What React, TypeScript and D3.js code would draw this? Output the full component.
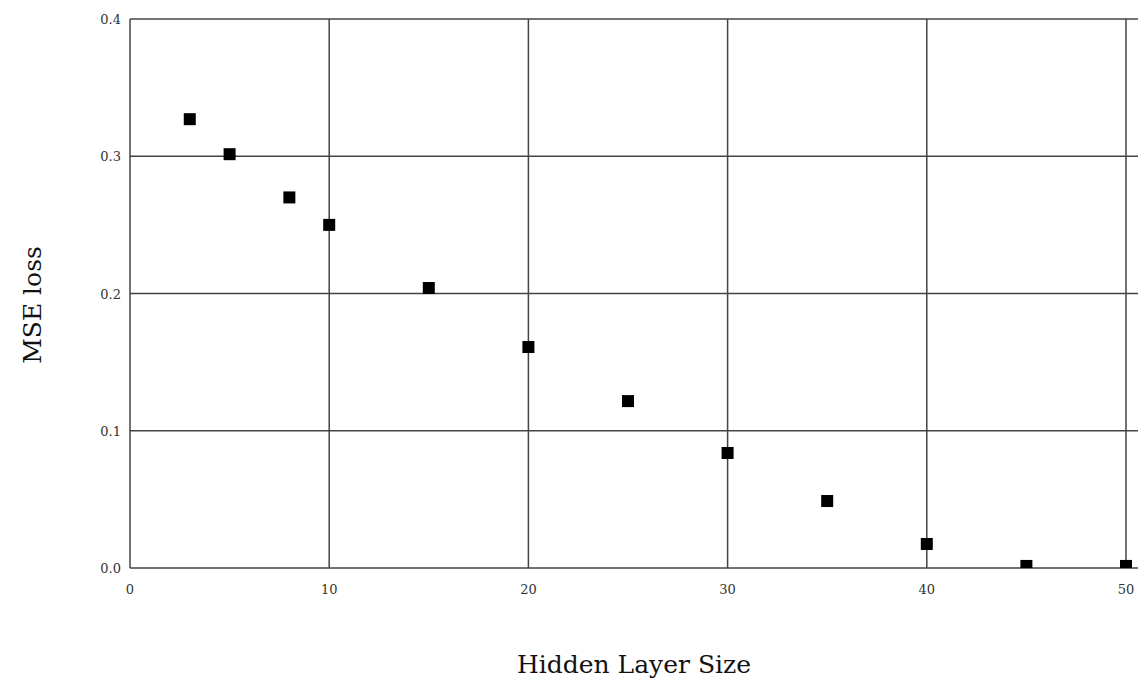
import React from "react";
import * as d3 from "d3";

const hiddenSizes = [3, 5, 8, 10, 15, 20, 25, 30, 35, 40, 45, 50];
const mseLoss = [0.327, 0.3015, 0.27, 0.25, 0.204, 0.161, 0.1216, 0.0838, 0.0488, 0.0175, 0.0015, 0.0015];
const xTicks = [0, 10, 20, 30, 40, 50];
const yTicks = [0.0, 0.1, 0.2, 0.3, 0.4];

const W = 1138;
const H = 679;
const left = 130;
const top = 19;
const bottom = 568;

export default function App() {
  const x = d3.scaleLinear().domain([0, 50]).range([left, 1126]);
  const y = d3.scaleLinear().domain([0, 0.4]).range([bottom, top]);
  const plotRight = x(50.7);
  const grid = "#444";
  const ms = 12;
  return (
    <svg width={W} height={H} style={{ position: "absolute", left: 0, top: 0 }}>
      <defs>
        <clipPath id="plot">
          <rect x={left} y={top} width={plotRight - left} height={bottom - top} />
        </clipPath>
      </defs>
      <rect width={W} height={H} fill="#fff" />
      {yTicks.map((t) => (
        <line key={"gy" + t} x1={left} x2={plotRight} y1={y(t)} y2={y(t)} stroke={grid} strokeWidth={1.5} />
      ))}
      {xTicks.map((t) => (
        <line key={"gx" + t} x1={x(t)} x2={x(t)} y1={top} y2={bottom} stroke={grid} strokeWidth={1.5} />
      ))}
      <g clipPath="url(#plot)">
        {hiddenSizes.map((h, i) => (
          <rect key={h} x={x(h) - ms / 2} y={y(mseLoss[i]) - ms / 2} width={ms} height={ms} fill="#000" />
        ))}
      </g>
      {yTicks.map((t) => (
        <text key={"ty" + t} x={left - 9} y={y(t) + 5} textAnchor="end" fontFamily="'DejaVu Serif', serif" fontSize={13} fill="#333">
          {t.toFixed(1)}
        </text>
      ))}
      {xTicks.map((t) => (
        <text key={"tx" + t} x={x(t)} y={594} textAnchor="middle" fontFamily="'DejaVu Serif', serif" fontSize={13} fill="#333">
          {t}
        </text>
      ))}
      <text x={634} y={673} textAnchor="middle" fontFamily="'DejaVu Serif', serif" fontSize={25} fill="#111">
        Hidden Layer Size
      </text>
      <text transform={`translate(41,305) rotate(-90)`} textAnchor="middle" fontFamily="'DejaVu Serif', serif" fontSize={25} fill="#111">
        MSE loss
      </text>
    </svg>
  );
}
